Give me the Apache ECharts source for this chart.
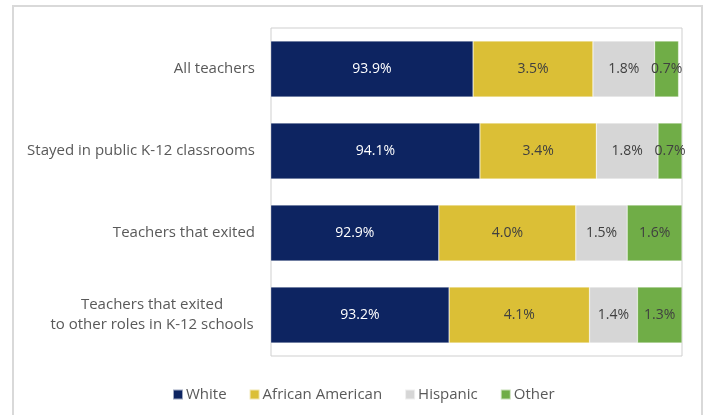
<!DOCTYPE html>
<html>
<head>
<meta charset="utf-8">
<script src="https://cdn.jsdelivr.net/npm/echarts@6/dist/echarts.min.js"></script>
<style>html,body{margin:0;padding:0;background:#fff}#c{width:706px;height:415px}</style>
</head>
<body>
<div id="c"></div>
<script>
var categories = ['All teachers', 'Stayed in public K-12 classrooms', 'Teachers that exited', 'Teachers that exited\nto other roles in K-12 schools'];
var seriesNames = ['White', 'African American', 'Hispanic', 'Other'];
var white = [93.9, 94.1, 92.9, 93.2];
var africanAmerican = [3.5, 3.4, 4.0, 4.1];
var hispanic = [1.8, 1.8, 1.5, 1.4];
var other = [0.7, 0.7, 1.6, 1.3];
var axisMin = 88, axisMax = 100;

var FONT = '"Open Sans", Lato, sans-serif';
var colors = ['#0d2461', '#dbbf36', '#d6d6d6', '#70ad47'];
var labelColors = ['#ffffff', '#404040', '#404040', '#404040'];
var values = [white, africanAmerican, hispanic, other];

var cv = document.createElement('canvas').getContext('2d');
cv.font = '15px "Open Sans"';
var multiW = Math.ceil(cv.measureText('to other roles in K-12 schools').width) + 2;

var chart = echarts.init(document.getElementById('c'));
chart.setOption({
  animation: false,
  textStyle: { fontFamily: FONT },
  graphic: [{
    type: 'rect', shape: { x: 13, y: 6, width: 689, height: 420 },
    style: { fill: 'none', stroke: '#d9d9d9', lineWidth: 2 }, silent: true
  }],
  grid: { left: 271, top: 28, right: 24, bottom: 59, show: true, borderColor: '#cfcfcf', borderWidth: 1 },
  xAxis: { type: 'value', min: axisMin, max: axisMax, show: false },
  yAxis: {
    type: 'category', data: categories, inverse: true,
    axisLine: { show: false }, axisTick: { show: false }, splitLine: { show: false },
    axisLabel: {
      margin: 16, color: '#595959', fontSize: 15, fontFamily: FONT, lineHeight: 20,
      formatter: function (v) {
        if (v.indexOf('\n') >= 0) {
          return v.split('\n').map(function (s) { return '{c|' + s + '}'; }).join('\n');
        }
        return v;
      },
      rich: { c: { width: multiW, align: 'center', color: '#595959', fontSize: 15, fontFamily: FONT, lineHeight: 20 } }
    }
  },
  legend: {
    bottom: 8, left: 167, icon: 'rect', itemWidth: 10, itemHeight: 10, itemGap: 22,
    textStyle: { color: '#595959', fontSize: 15, fontFamily: FONT, padding: [0, 0, 0, -2] },
    data: seriesNames
  },
  series: seriesNames.map(function (n, i) {
    return {
      name: n, type: 'bar', stack: 'total', data: values[i], barWidth: 56,
      itemStyle: { color: colors[i], borderColor: 'rgba(255,255,255,0.6)', borderWidth: 0.5 },
      label: {
        show: true, position: 'inside', color: labelColors[i], fontSize: 14, fontFamily: FONT,
        formatter: function (p) { return p.value.toFixed(1) + '%'; }
      }
    };
  })
});
</script>
</body>
</html>
